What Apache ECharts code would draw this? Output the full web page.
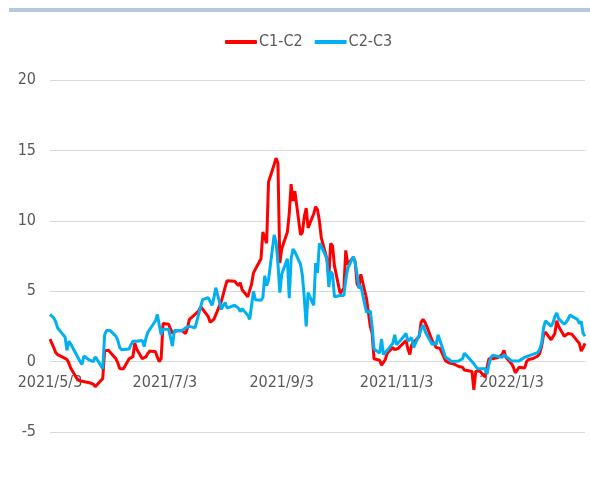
<!DOCTYPE html>
<html>
<head>
<meta charset="utf-8">
<script src="https://cdn.jsdelivr.net/npm/echarts@6/dist/echarts.min.js"></script>
<style>
  html, body { margin: 0; padding: 0; background: #fff; }
  #chart { width: 590px; height: 484px; }
</style>
</head>
<body>
<div id="chart"></div>
<script>
// spreads, one value per weekday starting 2021/5/3
var c1c2 = [
  1.6, 1.5, 1.0, 0.65, 0.5,
  0.3, 0.25, 0.15, -0.1, -0.45,
  -1.15, -1.3, -1.35, -1.4, -1.45,
  -1.5, -1.5, -1.6, -1.78, -1.72,
  -1.2, 0.77, 0.77, 0.8, 0.8,
  0.2, -0.1, -0.5, -0.55, -0.5,
  0.2, 0.2, 0.35, 1.3, 0.9,
  0.2, 0.2, 0.35, 0.6, 0.75,
  0.7, 0.3, 0.0, 0.2, 2.7,
  2.65, 2.3, 2.0, 2.15, 2.2,
  2.2, 2.1, 2.0, 2.4, 3.0,
  3.35, 3.4, 3.6, 3.9, 3.8,
  3.2, 2.8, 2.9, 3.0, 2.9,
  4.3, 4.35, 5.3, 5.75, 5.7,
  5.7, 5.7, 5.4, 5.6, 5.1,
  4.6, 4.5, 5.5, 6.3, 6.4,
  7.3, 9.2, 9.2, 8.4, 12.75,
  14.0, 14.45, 14.1, 7.0, 8.0,
  9.2, 10.5, 12.6, 11.4, 12.1,
  9.0, 9.2, 10.3, 10.9, 9.5,
  10.5, 11.0, 10.8, 10.0, 8.8,
  7.3, 6.0, 8.4, 8.2, 6.8,
  4.85, 4.9, 5.2, 7.9, 6.9,
  7.4, 7.1, 5.5, 5.3, 6.2,
  4.5, 3.5, 2.5, 2.0, 0.2,
  0.1, -0.25, -0.35, 0.15, 0.6,
  1.0, 0.85, 0.9, 0.95, 1.1,
  1.5, 0.9, 0.5, 1.2, 1.15,
  1.8, 2.8, 3.0, 2.8, 2.5,
  1.45, 1.3, 1.0, 0.95, 0.94,
  0.05, 0.0, -0.1, -0.1, -0.15,
  -0.35, -0.25, -0.4, -0.6, -0.55,
  -0.7, -2.0, -0.7, -0.6, -0.65,
  -1.1, -0.4, 0.2, 0.2, 0.2,
  0.3, 0.4, 0.5, 0.8, 0.3,
  -0.15, -0.4, -0.8, -0.7, -0.4,
  -0.45, 0.0, 0.15, 0.2, 0.2,
  0.4, 0.6, 1.1, 1.9, 2.1,
  1.55, 1.6, 2.0, 2.9, 2.5,
  1.8, 1.8, 2.0, 2.1, 1.95,
  1.45, 1.3, 0.75, 1.0, 1.3
];
var c2c3 = [
  3.35, 3.3, 3.1, 2.85, 2.4,
  1.9, 1.75, 0.8, 1.45, 1.25,
  0.5, 0.25, 0.0, -0.2, 0.4,
  0.1, 0.24, 0.0, 0.34, 0.15,
  -0.5, 1.9, 2.2, 2.3, 2.2,
  1.8, 1.5, 1.0, 0.85, 0.9,
  0.9, 1.2, 1.45, 1.5, 1.45,
  1.5, 1.06, 1.7, 2.1, 2.3,
  2.9, 3.35, 2.6, 1.9, 2.3,
  2.3, 2.25, 1.1, 2.2, 2.3,
  2.2, 2.3, 2.4, 2.35, 2.5,
  2.4, 2.9, 3.4, 3.9, 4.4,
  4.55, 4.5, 4.0, 4.5, 5.25,
  3.7, 4.0, 4.2, 3.8, 3.85,
  4.0, 4.0, 3.8, 3.55, 3.75,
  3.3, 3.0, 4.0, 5.0, 4.4,
  4.35, 4.55, 6.1, 5.4, 5.8,
  9.0, 8.5, 7.0, 4.9, 6.2,
  7.3, 4.5, 7.3, 8.0, 7.8,
  6.9, 6.1, 4.5, 2.5, 4.9,
  4.0, 7.0, 6.3, 8.4, 8.2,
  7.3, 5.3, 6.4, 6.2, 4.6,
  4.7, 4.7, 4.7, 5.8, 6.6,
  7.45, 7.0, 6.2, 5.2, 5.4,
  3.5, 3.5, 3.6, 2.5, 0.9,
  0.6, 1.6, 0.5, 0.4, 0.8,
  1.3, 1.9, 1.2, 1.35, 1.5,
  2.0, 1.45, 1.5, 1.7, 1.0,
  1.9, 2.3, 2.6, 2.2, 1.9,
  1.2, 1.35, 1.2, 1.9, 1.5,
  0.3, 0.3, 0.15, 0.0, -0.1,
  0.05, 0.1, 0.2, 0.6, 0.45,
  0.0, -0.15, -0.35, -0.5, -0.6,
  -0.5, -0.9, -0.2, 0.3, 0.46,
  0.36, 0.3, 0.3, 0.5, 0.58,
  0.05, 0.0, 0.05, 0.1, 0.05,
  0.3, 0.36, 0.4, 0.46, 0.5,
  0.65, 0.9, 1.3, 2.4, 2.9,
  2.5, 2.75, 3.2, 3.45, 3.05,
  2.65, 2.8, 3.0, 3.3, 3.25,
  3.0, 2.7, 2.85, 2.0, 1.8
];
var seriesNames = ['C1-C2', 'C2-C3'];
var tickDates = ['2021/5/3', '2021/7/3', '2021/9/3', '2021/11/3', '2022/1/3'];
var firstDay = '2021/5/3';
var lastDay = '2022/2/11';

var DAY = 86400000;
function toTime(s) {
  var p = s.split('/');
  return new Date(+p[0], +p[1] - 1, +p[2]).getTime();
}
// x axis counts calendar days from the first day
function dayNo(s) {
  return Math.round((toTime(s) - toTime(firstDay)) / DAY);
}
function dayLabel(n) {
  var t = new Date(toTime(firstDay) + n * DAY + DAY / 2);
  return t.getFullYear() + '/' + (t.getMonth() + 1) + '/' + t.getDate();
}

// weekdays from the first day, one per value
var days = [];
for (var n = 0; days.length < c1c2.length; n++) {
  var wd = new Date(toTime(firstDay) + n * DAY + DAY / 2).getDay();
  if (wd !== 0 && wd !== 6) days.push(n);
}

function pairs(vals) {
  return vals.map(function (v, i) { return [days[i], v]; });
}

var font = "'DejaVu Sans Condensed', 'Liberation Sans', sans-serif";
var textColor = '#595959';

var myChart = echarts.init(document.getElementById('chart'));

var option = {
  animation: false,
  backgroundColor: '#fff',
  textStyle: { fontFamily: font },
  graphic: [{
    type: 'rect',
    left: 9, top: 8,
    shape: { width: 581, height: 4 },
    style: { fill: '#b4c7dc' }
  }],
  legend: {
    top: 29,
    left: 220,
    itemGap: 12,
    itemWidth: 32,
    itemHeight: 4,
    icon: 'roundRect',
    textStyle: { fontFamily: font, fontSize: 16, color: textColor, padding: [0, 0, 0, -3] },
    data: seriesNames
  },
  grid: { left: 50, right: 5, top: 80, bottom: 52 },
  xAxis: {
    type: 'value',
    min: 0,
    max: dayNo(lastDay),
    // labels sit under the zero line, as in the original
    offset: -70.5,
    axisLine: { show: false, onZero: false },
    axisTick: { show: false },
    splitLine: { show: false },
    axisLabel: {
      customValues: tickDates.map(dayNo),
      margin: 13,
      fontFamily: font,
      fontSize: 16,
      color: textColor,
      hideOverlap: false,
      formatter: function (v) { return dayLabel(v); }
    }
  },
  yAxis: {
    type: 'value',
    min: -5,
    max: 20,
    interval: 5,
    axisLine: { show: false },
    axisTick: { show: false },
    splitLine: { lineStyle: { color: '#d9d9d9', width: 1 } },
    axisLabel: { margin: 14, fontFamily: font, fontSize: 16, color: textColor }
  },
  series: [{
    name: seriesNames[0],
    type: 'line',
    symbol: 'none',
    color: '#ff0000',
    lineStyle: { width: 3, color: '#ff0000' },
    data: pairs(c1c2)
  }, {
    name: seriesNames[1],
    type: 'line',
    symbol: 'none',
    color: '#00b0f0',
    lineStyle: { width: 3, color: '#00b0f0' },
    data: pairs(c2c3)
  }]
};

myChart.setOption(option);
</script>
</body>
</html>
